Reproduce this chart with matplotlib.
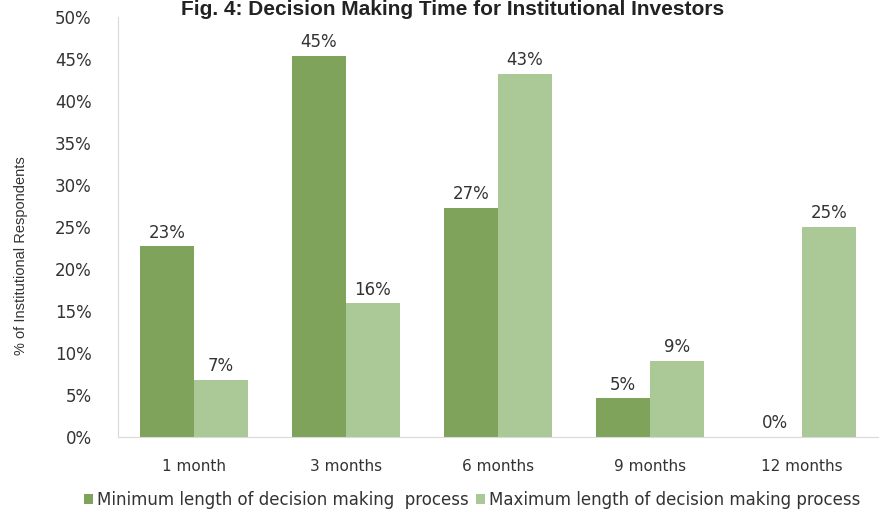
import numpy as np
import matplotlib
matplotlib.use("Agg")
import matplotlib.pyplot as plt
from matplotlib.ticker import MultipleLocator, FuncFormatter

DARK_GREEN = "#7fa35a"
LIGHT_GREEN = "#aac996"
AXIS_GRAY = "#d9d9d9"
TEXT = "#333333"

categories = ["1 month", "3 months", "6 months", "9 months", "12 months"]
min_length = [22.7, 45.4, 27.3, 4.6, 0.0]
max_length = [6.8, 15.9, 43.2, 9.1, 25.0]
series_labels = ["Minimum length of decision making  process",
                 "Maximum length of decision making process"]

plt.rcParams["font.family"] = ["DejaVu Sans"]

fig = plt.figure(figsize=(8.82, 5.12), dpi=100)
ax = fig.add_axes([118 / 882, 1 - 437 / 512, 760 / 882, 420 / 512])

x = np.arange(len(categories))
w = 0.355
b1 = ax.bar(x - w / 2, min_length, w, color=DARK_GREEN, label=series_labels[0])
b2 = ax.bar(x + w / 2, max_length, w, color=LIGHT_GREEN, label=series_labels[1])

for bars in (b1, b2):
    for rect in bars:
        h = rect.get_height()
        ax.text(rect.get_x() + rect.get_width() / 2, h + 1.05, f"{h:.0f}%",
                ha="center", va="baseline", fontsize=12, color=TEXT)

ax.set_xlim(-0.5, len(categories) - 0.5)
ax.set_ylim(0, 50)
ax.yaxis.set_major_locator(MultipleLocator(5))
ax.yaxis.set_major_formatter(FuncFormatter(lambda v, p: f"{v:.0f}%"))
ax.set_xticks(x)
ax.set_xticklabels(categories, fontsize=11, color=TEXT)
ax.tick_params(axis="y", length=0, labelsize=12, labelcolor=TEXT, pad=19)
ax.tick_params(axis="x", length=0, pad=16)

for side in ("top", "right"):
    ax.spines[side].set_visible(False)
ax.spines["left"].set_color(AXIS_GRAY)
ax.spines["bottom"].set_color(AXIS_GRAY)

fig.text(21 / 882, 1 - 256 / 512, "% of Institutional Respondents", rotation=90,
         ha="center", va="center", fontsize=10.5, color=TEXT,
         fontfamily="Liberation Sans")
# title sits tight against the top edge, as in the source figure
fig.text(453 / 882, 1 - 15 / 512, "Fig. 4: Decision Making Time for Institutional Investors",
         ha="center", va="baseline", fontsize=15, fontweight="bold", color="#222222",
         fontfamily="Liberation Sans")

fig.legend(handles=[b1, b2], loc="center", bbox_to_anchor=(472 / 882, 1 - 500 / 512),
           ncol=2, frameon=False, fontsize=12, handlelength=0.55, handleheight=0.55,
           handletextpad=0.25, columnspacing=0.4, labelcolor=TEXT)

fig.savefig("out.png", dpi=100)
